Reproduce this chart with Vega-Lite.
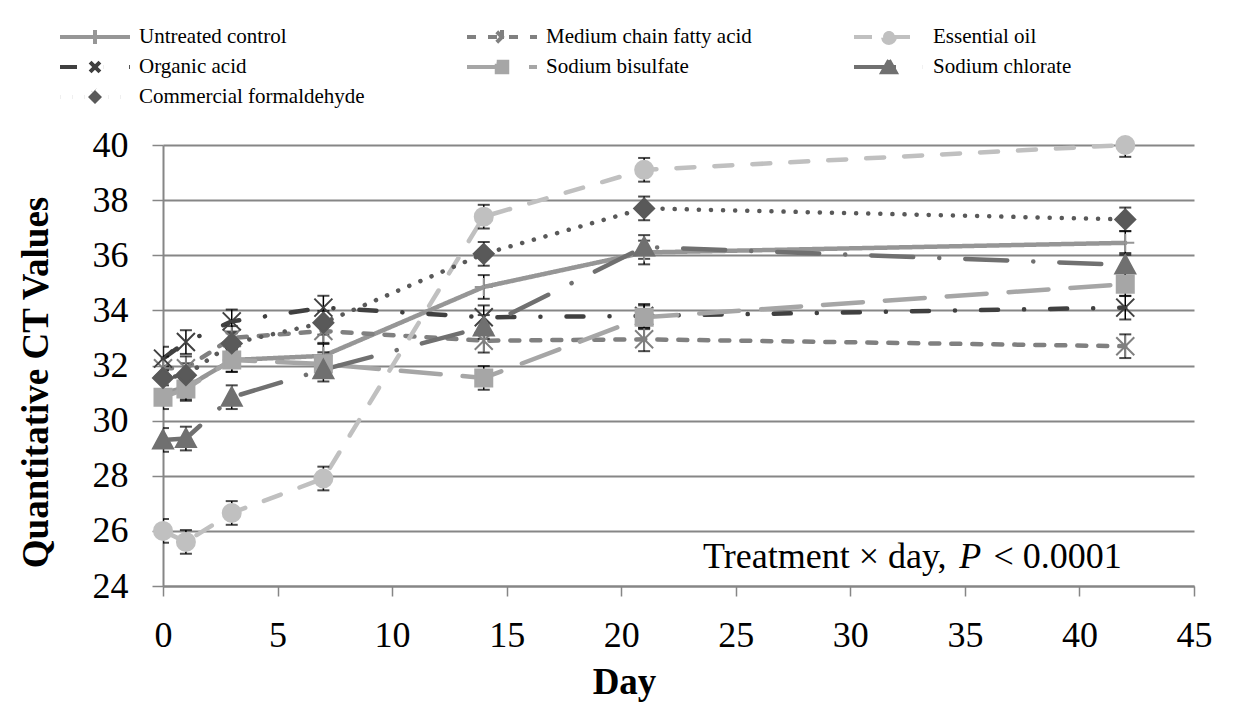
{
  "$schema": "https://vega.github.io/schema/vega-lite/v6.json",
  "width": 1031,
  "height": 441,
  "autosize": {"type": "none"},
  "padding": {"left": 163, "top": 145, "right": 41, "bottom": 131},
  "background": "white",
  "config": {
    "font": "Liberation Serif",
    "view": {"stroke": null},
    "legend": {
      "orient": "none",
      "direction": "horizontal",
      "legendX": -105,
      "legendY": -120,
      "columns": 3,
      "columnPadding": 100,
      "rowPadding": 6,
      "clipHeight": 24,
      "symbolSize": 4900,
      "symbolStrokeWidth": 4,
      "labelFont": "Liberation Serif",
      "labelFontSize": 21,
      "labelColor": "black",
      "labelOffset": 7,
      "labelLimit": 400,
      "padding": 0
    }
  },
  "datasets": {
    "ct": [
      {"series": "Untreated control", "day": 0, "ct": 31.0, "se": 0.43},
      {"series": "Untreated control", "day": 1, "ct": 31.2, "se": 0.43},
      {"series": "Untreated control", "day": 3, "ct": 32.2, "se": 0.43},
      {"series": "Untreated control", "day": 7, "ct": 32.35, "se": 0.43},
      {"series": "Untreated control", "day": 14, "ct": 34.85, "se": 0.43},
      {"series": "Untreated control", "day": 21, "ct": 36.1, "se": 0.43},
      {"series": "Untreated control", "day": 42, "ct": 36.45, "se": 0.43},
      {"series": "Medium chain fatty acid", "day": 0, "ct": 31.9, "se": 0.43},
      {"series": "Medium chain fatty acid", "day": 1, "ct": 31.9, "se": 0.43},
      {"series": "Medium chain fatty acid", "day": 3, "ct": 33.0, "se": 0.43},
      {"series": "Medium chain fatty acid", "day": 7, "ct": 33.25, "se": 0.43},
      {"series": "Medium chain fatty acid", "day": 14, "ct": 32.9, "se": 0.43},
      {"series": "Medium chain fatty acid", "day": 21, "ct": 32.95, "se": 0.43},
      {"series": "Medium chain fatty acid", "day": 42, "ct": 32.7, "se": 0.43},
      {"series": "Essential oil", "day": 0, "ct": 26.0, "se": 0.43},
      {"series": "Essential oil", "day": 1, "ct": 25.6, "se": 0.43},
      {"series": "Essential oil", "day": 3, "ct": 26.65, "se": 0.43},
      {"series": "Essential oil", "day": 7, "ct": 27.9, "se": 0.43},
      {"series": "Essential oil", "day": 14, "ct": 37.4, "se": 0.43},
      {"series": "Essential oil", "day": 21, "ct": 39.1, "se": 0.43},
      {"series": "Essential oil", "day": 42, "ct": 40.0, "se": 0.43},
      {"series": "Organic acid", "day": 0, "ct": 32.25, "se": 0.43},
      {"series": "Organic acid", "day": 1, "ct": 32.85, "se": 0.43},
      {"series": "Organic acid", "day": 3, "ct": 33.6, "se": 0.43},
      {"series": "Organic acid", "day": 7, "ct": 34.1, "se": 0.43},
      {"series": "Organic acid", "day": 14, "ct": 33.75, "se": 0.43},
      {"series": "Organic acid", "day": 21, "ct": 33.8, "se": 0.43},
      {"series": "Organic acid", "day": 42, "ct": 34.1, "se": 0.43},
      {"series": "Sodium bisulfate", "day": 0, "ct": 30.85, "se": 0.43},
      {"series": "Sodium bisulfate", "day": 1, "ct": 31.15, "se": 0.43},
      {"series": "Sodium bisulfate", "day": 3, "ct": 32.2, "se": 0.43},
      {"series": "Sodium bisulfate", "day": 7, "ct": 32.05, "se": 0.43},
      {"series": "Sodium bisulfate", "day": 14, "ct": 31.55, "se": 0.43},
      {"series": "Sodium bisulfate", "day": 21, "ct": 33.75, "se": 0.43},
      {"series": "Sodium bisulfate", "day": 42, "ct": 34.95, "se": 0.43},
      {"series": "Sodium chlorate", "day": 0, "ct": 29.3, "se": 0.43},
      {"series": "Sodium chlorate", "day": 1, "ct": 29.35, "se": 0.43},
      {"series": "Sodium chlorate", "day": 3, "ct": 30.85, "se": 0.43},
      {"series": "Sodium chlorate", "day": 7, "ct": 31.85, "se": 0.43},
      {"series": "Sodium chlorate", "day": 14, "ct": 33.4, "se": 0.43},
      {"series": "Sodium chlorate", "day": 21, "ct": 36.3, "se": 0.43},
      {"series": "Sodium chlorate", "day": 42, "ct": 35.65, "se": 0.43},
      {"series": "Commercial formaldehyde", "day": 0, "ct": 31.55, "se": 0.43},
      {"series": "Commercial formaldehyde", "day": 1, "ct": 31.65, "se": 0.43},
      {"series": "Commercial formaldehyde", "day": 3, "ct": 32.8, "se": 0.43},
      {"series": "Commercial formaldehyde", "day": 7, "ct": 33.55, "se": 0.43},
      {"series": "Commercial formaldehyde", "day": 14, "ct": 36.05, "se": 0.43},
      {"series": "Commercial formaldehyde", "day": 21, "ct": 37.7, "se": 0.43},
      {"series": "Commercial formaldehyde", "day": 42, "ct": 37.3, "se": 0.43}
    ]
  },
  "data": {"name": "ct"},
  "encoding": {
    "x": {
      "field": "day",
      "type": "quantitative",
      "scale": {"domain": [0, 45], "nice": false},
      "axis": {
        "title": "Day",
        "values": [0, 5, 10, 15, 20, 25, 30, 35, 40, 45],
        "grid": false,
        "tickSize": 10,
        "tickColor": "#868686",
        "tickWidth": 1.5,
        "domainColor": "#868686",
        "domainWidth": 2,
        "labelFont": "Liberation Serif",
        "labelFontSize": 36,
        "labelColor": "black",
        "labelPadding": 22,
        "labelFlush": false,
        "labelOverlap": false,
        "titleFont": "Liberation Serif",
        "titleFontSize": 37,
        "titleFontWeight": "bold",
        "titleColor": "black",
        "titleX": 461,
        "titleY": 107,
        "titleAlign": "center",
        "titleBaseline": "alphabetic"
      }
    },
    "y": {
      "field": "ct",
      "type": "quantitative",
      "scale": {"domain": [24, 40], "nice": false, "zero": false},
      "axis": {
        "title": "Quantitative CT Values",
        "values": [24, 26, 28, 30, 32, 34, 36, 38, 40],
        "grid": true,
        "gridColor": "#868686",
        "gridWidth": 2,
        "tickSize": 11,
        "tickColor": "#868686",
        "tickWidth": 1.5,
        "domainColor": "#868686",
        "domainWidth": 2,
        "labelFont": "Liberation Serif",
        "labelFontSize": 36,
        "labelColor": "black",
        "labelPadding": 24,
        "labelOverlap": false,
        "titleFont": "Liberation Serif",
        "titleFontSize": 37,
        "titleFontWeight": "bold",
        "titleColor": "black",
        "titleAngle": 270,
        "titleX": -116,
        "titleY": 237,
        "titleAlign": "center",
        "titleBaseline": "alphabetic"
      }
    }
  },
  "layer": [
    {
      "mark": {"type": "line", "strokeWidth": 4.5, "strokeCap": "round", "strokeJoin": "round"},
      "encoding": {
        "color": {
          "field": "series", "type": "nominal",
          "scale": {
            "domain": ["Untreated control", "Medium chain fatty acid", "Essential oil", "Organic acid", "Sodium bisulfate", "Sodium chlorate", "Commercial formaldehyde"],
            "range": ["#969696", "#808080", "#c0c0c0", "#404040", "#a6a6a6", "#707070", "#595959"]
          },
          "legend": null
        },
        "strokeDash": {
          "field": "series", "type": "nominal",
          "scale": {
            "domain": ["Untreated control", "Medium chain fatty acid", "Essential oil", "Organic acid", "Sodium bisulfate", "Sodium chlorate", "Commercial formaldehyde"],
            "range": [[1, 0], [9, 12], [18, 20], [17, 26, 0.1, 26], [40, 22], [42, 26, 0.1, 26], [0.1, 12]]
          },
          "legend": null
        }
      }
    },
    {
      "mark": {
        "type": "errorbar",
        "clip": true,
        "color": "black",
        "ticks": {"size": 12, "thickness": 2, "color": "black"},
        "rule": {"strokeWidth": 1.5, "color": "black"}
      },
      "encoding": {
        "y": {"field": "ct", "type": "quantitative"},
        "yError": {"field": "se"}
      }
    },
    {
      "mark": {"type": "point", "filled": true, "opacity": 1, "size": 400, "strokeWidth": 2},
      "encoding": {
        "color": {
          "field": "series", "type": "nominal",
          "scale": {
            "domain": ["Untreated control", "Medium chain fatty acid", "Essential oil", "Organic acid", "Sodium bisulfate", "Sodium chlorate", "Commercial formaldehyde"],
            "range": ["#969696", "#808080", "#c0c0c0", "#404040", "#a6a6a6", "#707070", "#595959"]
          },
          "legend": null
        },
        "stroke": {
          "field": "series", "type": "nominal",
          "scale": {
            "domain": ["Untreated control", "Medium chain fatty acid", "Essential oil", "Organic acid", "Sodium bisulfate", "Sodium chlorate", "Commercial formaldehyde"],
            "range": ["#969696", "#808080", "#c0c0c0", "#404040", "#a6a6a6", "#707070", "#595959"]
          },
          "legend": null
        },
        "shape": {
          "field": "series", "type": "nominal",
          "scale": {
            "domain": ["Untreated control", "Medium chain fatty acid", "Essential oil", "Organic acid", "Sodium bisulfate", "Sodium chlorate", "Commercial formaldehyde"],
            "range": [
              "M-0.9,0L0.9,0M0,-0.9L0,0.9",
              "M-0.9,-0.9L0.9,0.9M-0.9,0.9L0.9,-0.9M0,-1.1L0,1.1",
              "M0.9,0A0.9,0.9,0,1,1,-0.9,0A0.9,0.9,0,1,1,0.9,0Z",
              "M-0.9,-0.9L0.9,0.9M-0.9,0.9L0.9,-0.9",
              "M-0.85,-0.85L0.85,-0.85L0.85,0.85L-0.85,0.85Z",
              "M0,-1L1,0.85L-1,0.85Z",
              "M0,-1L1,0L0,1L-1,0Z"
            ]
          },
          "legend": null
        }
      }
    },
    {
      "transform": [{"filter": "false"}],
      "mark": {"type": "point", "filled": true, "opacity": 1, "size": 4900, "strokeWidth": 4},
      "encoding": {
        "color": {
          "field": "series", "type": "nominal",
          "scale": {
            "domain": ["Untreated control", "Medium chain fatty acid", "Essential oil", "Organic acid", "Sodium bisulfate", "Sodium chlorate", "Commercial formaldehyde"],
            "range": ["#969696", "#808080", "#c0c0c0", "#404040", "#a6a6a6", "#707070", "#595959"]
          },
          "legend": {"title": null, "labelFont": "Liberation Serif", "encode": {"symbols": {"update": {"strokeCap": {"value": "round"}}}}}
        },
        "stroke": {
          "field": "series", "type": "nominal",
          "scale": {
            "domain": ["Untreated control", "Medium chain fatty acid", "Essential oil", "Organic acid", "Sodium bisulfate", "Sodium chlorate", "Commercial formaldehyde"],
            "range": ["#969696", "#808080", "#c0c0c0", "#404040", "#a6a6a6", "#707070", "#595959"]
          },
          "legend": {"title": null, "labelFont": "Liberation Serif", "encode": {"symbols": {"update": {"strokeCap": {"value": "round"}}}}}
        },
        "strokeDash": {
          "field": "series", "type": "nominal",
          "scale": {
            "domain": ["Untreated control", "Medium chain fatty acid", "Essential oil", "Organic acid", "Sodium bisulfate", "Sodium chlorate", "Commercial formaldehyde"],
            "range": [[1, 0], [9, 12], [18, 20], [17, 26, 0.1, 26], [40, 22], [42, 26, 0.1, 26], [0.1, 12]]
          },
          "legend": {"title": null, "labelFont": "Liberation Serif", "encode": {"symbols": {"update": {"strokeCap": {"value": "round"}}}}}
        },
        "shape": {
          "field": "series", "type": "nominal",
          "scale": {
            "domain": ["Untreated control", "Medium chain fatty acid", "Essential oil", "Organic acid", "Sodium bisulfate", "Sodium chlorate", "Commercial formaldehyde"],
            "range": [
              "M-1,0L1,0M0,-0.2L0,0.2",
              "M-1,0L1,0M-0.15,-0.15L0.15,0.15M-0.15,0.15L0.15,-0.15M0,-0.2L0,0.2",
              "M-1,0L1,0M0.17,0A0.17,0.17,0,1,1,-0.17,0A0.17,0.17,0,1,1,0.17,0Z",
              "M-1,0L1,0M-0.14,-0.14L0.14,0.14M-0.14,0.14L0.14,-0.14",
              "M-1,0L1,0M-0.15,-0.15L0.15,-0.15L0.15,0.15L-0.15,0.15Z",
              "M-1,0L1,0M0,-0.19L0.19,0.15L-0.19,0.15Z",
              "M-1,0L1,0M0,-0.2L0.2,0L0,0.2L-0.2,0Z"
            ]
          },
          "legend": {"title": null, "labelFont": "Liberation Serif", "encode": {"symbols": {"update": {"strokeCap": {"value": "round"}}}}}
        }
      }
    },
    {
      "data": {"values": [{"note": "Treatment × day,", "day": 23.57, "ct": 24.65}]},
      "mark": {"type": "text", "font": "Liberation Serif", "fontSize": 36, "color": "black", "align": "left", "baseline": "alphabetic"},
      "encoding": {
        "text": {"field": "note"}
      }
    },
    {
      "data": {"values": [{"note": "P", "day": 34.75, "ct": 24.65}]},
      "mark": {"type": "text", "font": "Liberation Serif", "fontStyle": "italic", "fontSize": 36, "color": "black", "align": "left", "baseline": "alphabetic"},
      "encoding": {
        "text": {"field": "note"}
      }
    },
    {
      "data": {"values": [{"note": "< 0.0001", "day": 36.25, "ct": 24.65}]},
      "mark": {"type": "text", "font": "Liberation Serif", "fontSize": 36, "color": "black", "align": "left", "baseline": "alphabetic"},
      "encoding": {
        "text": {"field": "note"}
      }
    }
  ],
  "resolve": {
    "scale": {"color": "independent", "shape": "independent", "strokeDash": "independent", "stroke": "independent"}
  }
}
